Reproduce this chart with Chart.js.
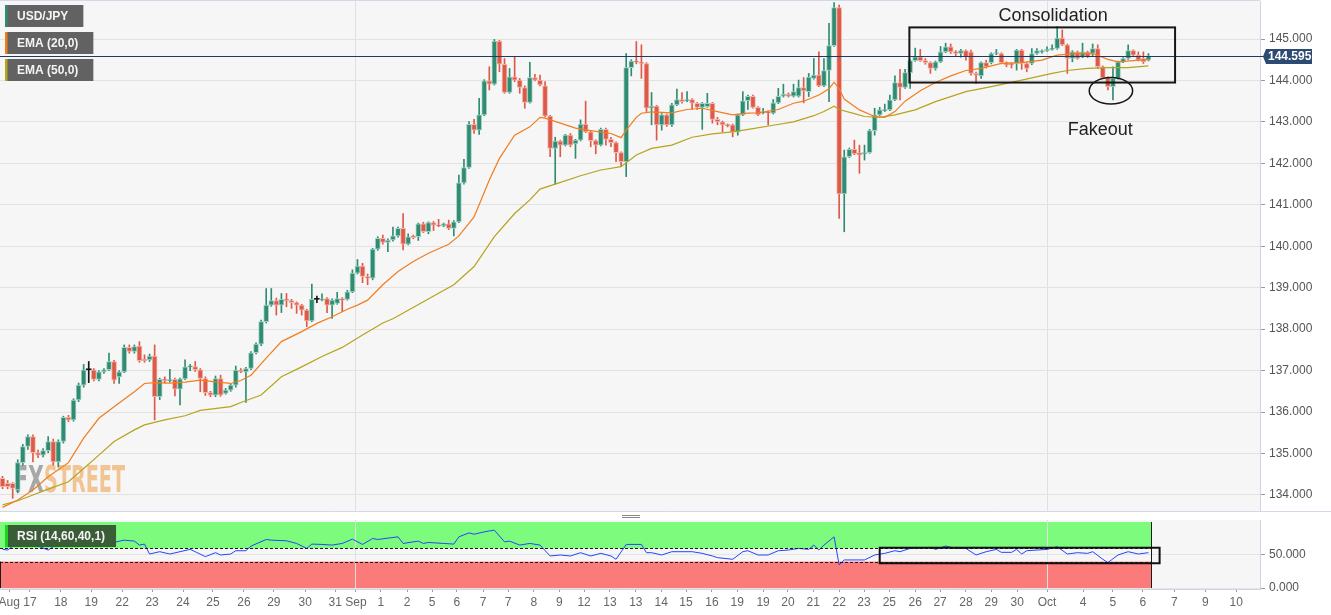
<!DOCTYPE html>
<html>
<head>
<meta charset="utf-8">
<script src="https://cdn.jsdelivr.net/npm/chart.js@4.4.1/dist/chart.umd.min.js"></script>
<style>
  html, body { margin:0; padding:0; background:#ffffff; }
  body { width:1331px; height:615px; overflow:hidden; position:relative; }
  .pane { position:absolute; left:0; width:1331px; }
  #p1 { top:0; height:512px; }
  #p2 { top:512px; height:103px; }
</style>
</head>
<body>
<div class="pane" id="p1"><canvas id="priceChart"></canvas></div>
<div class="pane" id="p2"><canvas id="rsiChart"></canvas></div>
<script>
// ---------------- DATA (USD/JPY, 4H candles) ----------------
const opens = [
134.40,134.28,134.28,134.12,134.78,135.17,135.41,135.02,134.96,135.07,
135.29,134.80,135.29,135.87,135.81,136.29,136.65,137.02,137.02,136.79,
136.97,137.02,137.22,136.85,136.97,137.56,137.46,137.59,137.27,137.26,
137.35,136.37,136.79,136.76,136.79,136.55,136.80,137.09,137.10,137.02,
136.81,136.47,136.41,136.81,136.45,136.53,136.65,137.01,136.97,137.05,
137.43,137.64,138.18,138.58,138.69,138.58,138.72,138.69,138.64,138.58,
138.46,138.20,138.72,138.70,138.74,138.58,138.62,138.74,138.72,138.90,
139.35,139.52,139.27,139.23,139.93,140.19,140.09,140.15,140.25,140.43,
140.05,140.25,140.23,140.54,140.35,140.57,140.51,140.49,140.54,140.43,
140.59,141.53,141.90,142.94,142.80,143.17,143.99,143.91,144.95,144.39,
143.71,144.09,144.01,143.83,143.47,144.07,144.01,143.87,143.14,142.36,
142.54,142.44,142.68,142.47,142.56,142.95,142.76,142.55,142.44,142.82,
142.58,142.50,142.26,142.04,144.31,144.47,144.44,144.41,143.33,143.38,
142.93,143.17,142.93,143.41,143.54,143.51,143.54,143.45,143.35,143.37,
143.45,143.06,143.00,142.93,142.93,142.76,143.17,143.51,143.62,143.35,
143.21,143.25,143.21,143.46,143.62,143.67,143.62,143.62,143.83,143.73,
144.05,144.13,143.87,144.24,144.84,145.76,141.26,142.16,142.34,142.26,
142.23,142.26,142.79,143.17,143.27,143.29,143.53,143.95,143.83,144.19,
144.48,144.57,144.48,144.43,144.29,144.45,144.69,144.81,144.69,144.65,
144.72,144.69,144.17,144.11,144.43,144.43,144.65,144.65,144.43,144.41,
144.41,144.73,144.41,144.41,144.65,144.69,144.72,144.75,144.77,145.02,
144.86,144.53,144.69,144.57,144.69,144.65,144.77,144.33,144.07,143.85,
144.05,144.45,144.53,144.72,144.61,144.53,144.49];
const highs = [
134.45,134.35,134.30,134.85,135.22,135.45,135.45,135.08,135.12,135.41,
135.35,135.33,135.90,135.92,136.32,136.70,137.15,137.22,137.05,137.00,
137.05,137.42,137.25,137.00,137.62,137.62,137.62,137.70,137.38,137.40,
137.62,136.82,136.85,137.03,136.82,136.82,137.26,137.15,137.22,137.05,
136.85,136.50,136.87,136.89,136.57,136.68,137.11,137.05,137.08,137.46,
137.67,138.22,138.98,138.98,138.75,138.86,138.86,138.72,138.66,138.60,
138.48,139.09,138.80,138.85,138.76,138.73,138.89,138.76,138.94,139.43,
139.68,139.59,139.33,139.95,140.23,140.27,140.18,140.46,140.46,140.79,
140.30,140.27,140.56,140.58,140.59,140.60,140.65,140.56,140.63,140.62,
141.72,142.10,143.01,143.06,143.57,144.02,144.33,144.99,144.97,144.53,
144.29,144.57,144.05,143.87,144.44,144.15,144.13,143.97,143.16,142.63,
142.56,142.70,142.72,142.58,143.05,143.50,142.78,142.57,142.85,142.85,
142.63,142.52,142.28,144.65,144.50,144.94,144.86,144.43,143.71,143.40,
143.20,143.19,143.45,143.79,143.71,143.73,143.56,143.47,143.47,143.69,
143.47,143.11,143.02,142.95,142.95,143.19,143.73,143.65,143.65,143.37,
143.33,143.27,143.54,143.81,143.91,143.70,143.91,144.01,144.07,144.17,
144.53,144.69,144.53,145.38,145.88,145.82,142.32,142.37,142.56,142.44,
142.44,142.82,143.33,143.35,143.43,143.65,144.11,144.27,144.27,144.50,
144.78,144.75,144.53,144.45,144.47,144.82,144.90,144.88,144.72,144.75,
144.74,144.73,144.20,144.45,144.49,144.67,144.75,144.67,144.45,144.43,
144.75,144.75,144.43,144.77,144.77,144.74,144.81,144.86,145.30,145.22,
144.88,144.72,144.71,144.90,144.71,144.88,144.86,144.35,144.09,144.33,
144.47,144.55,144.86,144.74,144.69,144.69,144.65];
const lows = [
134.15,134.15,133.92,134.05,134.72,135.10,134.80,134.90,134.92,135.02,
134.72,134.68,135.25,135.77,135.78,136.25,136.60,136.71,136.75,136.75,
136.93,137.00,136.69,136.69,136.95,137.42,137.42,137.20,137.20,137.22,
135.81,136.30,136.70,136.72,136.39,136.17,136.78,137.00,136.98,136.49,
136.40,136.37,136.37,136.38,136.43,136.50,136.60,136.95,136.23,137.02,
137.40,137.60,138.15,138.55,138.34,138.40,138.54,138.50,138.38,138.34,
138.06,138.18,138.64,138.68,138.40,138.26,138.60,138.42,138.70,138.88,
139.33,139.12,139.07,139.19,139.90,140.05,139.87,140.12,140.22,139.91,
140.03,140.18,140.14,140.33,140.30,140.38,140.47,140.47,140.40,140.25,
140.57,141.50,141.88,142.72,142.70,143.15,143.77,143.89,144.21,143.69,
143.69,143.97,143.69,143.33,143.45,143.99,143.87,143.12,142.16,141.50,
142.16,142.42,142.40,142.12,142.54,142.74,142.40,142.23,142.42,142.44,
142.40,142.04,141.92,141.68,144.11,144.40,144.05,143.25,142.93,142.56,
142.80,142.89,142.89,143.39,143.45,143.49,143.30,143.30,142.82,143.35,
142.97,142.93,142.76,142.88,142.64,142.68,143.15,143.30,143.33,143.15,
143.19,142.93,143.19,143.44,143.60,143.60,143.60,143.60,143.46,143.61,
144.03,143.85,143.85,143.49,144.82,140.67,140.35,142.14,142.21,141.76,
142.08,142.24,142.68,143.15,143.25,143.27,143.51,143.53,143.81,143.81,
144.46,144.46,144.39,144.17,144.25,144.43,144.67,144.65,144.60,144.56,
144.49,144.13,143.93,144.05,144.30,144.40,144.62,144.40,144.33,144.30,
144.25,144.27,144.21,144.38,144.63,144.66,144.70,144.73,144.75,144.84,
144.17,144.45,144.51,144.55,144.55,144.60,144.29,144.05,143.77,143.53,
144.03,144.43,144.51,144.59,144.47,144.41,144.47];
const closes = [
134.20,134.20,134.16,134.78,135.17,135.41,135.02,134.96,135.07,135.29,
134.80,135.29,135.87,135.81,136.29,136.65,137.02,137.02,136.79,136.97,
137.02,137.22,136.77,136.97,137.56,137.46,137.58,137.24,137.24,137.35,
136.37,136.79,136.76,136.78,136.55,136.80,137.09,137.10,137.02,136.81,
136.47,136.41,136.81,136.41,136.53,136.65,137.01,136.97,137.05,137.43,
137.64,138.18,138.58,138.69,138.58,138.72,138.69,138.64,138.58,138.46,
138.20,138.72,138.72,138.73,138.58,138.70,138.74,138.70,138.90,139.35,
139.52,139.27,139.23,139.93,140.19,140.09,140.15,140.25,140.43,140.05,
140.23,140.21,140.54,140.35,140.57,140.51,140.49,140.54,140.43,140.59,
141.53,141.90,142.94,142.80,143.17,143.99,143.91,144.95,144.39,143.71,
144.09,144.01,143.83,143.47,144.07,144.01,143.89,143.14,142.36,142.54,
142.44,142.68,142.44,142.56,142.95,142.76,142.55,142.44,142.82,142.58,
142.50,142.26,142.04,144.31,144.47,144.44,144.41,143.33,143.38,142.93,
143.17,142.93,143.41,143.54,143.49,143.54,143.45,143.35,143.45,143.45,
143.06,143.00,142.93,142.91,142.76,143.17,143.51,143.62,143.35,143.17,
143.25,143.21,143.46,143.62,143.67,143.62,143.73,143.83,143.75,144.08,
144.13,143.87,144.24,144.84,145.76,141.26,142.16,142.34,142.23,142.20,
142.26,142.79,143.17,143.29,143.30,143.53,143.95,143.83,144.19,144.48,
144.57,144.48,144.43,144.29,144.45,144.69,144.81,144.69,144.65,144.72,
144.57,144.17,144.13,144.43,144.33,144.65,144.67,144.43,144.37,144.38,
144.73,144.41,144.29,144.65,144.72,144.72,144.75,144.77,145.02,144.86,
144.53,144.69,144.53,144.69,144.57,144.77,144.33,144.07,143.85,144.05,
144.45,144.53,144.72,144.61,144.49,144.45,144.595];

// EMA readings [candle index, value]
const ema20Pts = [[0,133.70],[3,133.88],[6,134.12],[9,134.44],[13,134.78],[16,135.37],[19,135.85],[22,136.13],
[26,136.49],[28,136.69],[30,136.71],[33,136.70],[36,136.72],[39,136.77],[42,136.73],[45,136.69],[47,136.76],
[49,136.89],[52,137.30],[55,137.70],[59,137.94],[62,138.14],[65,138.30],[68,138.48],[70,138.58],[72,138.70],
[75,139.07],[78,139.39],[81,139.63],[84,139.83],[88,140.05],[90,140.25],[93,140.71],[94,141.00],[96,141.60],
[98,142.12],[101,142.68],[104,142.88],[106,143.11],[107,143.09],[110,142.97],[113,142.85],[116,142.79],
[120,142.72],[122,142.62],[123,142.80],[125,143.11],[126,143.21],[128,143.24],[132,143.22],[135,143.30],
[138,143.33],[141,143.25],[144,143.17],[147,143.21],[149,143.22],[153,143.30],[156,143.45],[158,143.50],
[161,143.65],[163,143.80],[164,143.96],[165,143.80],[166,143.55],[169,143.29],[172,143.13],[174,143.11],
[176,143.25],[178,143.50],[181,143.75],[184,143.95],[187,144.11],[190,144.24],[193,144.29],[197,144.41],
[201,144.43],[205,144.49],[208,144.61],[211,144.64],[215,144.65],[218,144.51],[220,144.45],[223,144.48],[226,144.51]];
const ema50Pts = [[0,133.76],[3,133.86],[6,134.00],[9,134.14],[13,134.32],[16,134.64],[19,134.96],[22,135.29],
[26,135.57],[28,135.69],[32,135.81],[36,135.91],[39,136.04],[45,136.13],[47,136.23],[51,136.41],[55,136.85],
[59,137.09],[63,137.34],[67,137.56],[71,137.86],[75,138.15],[77,138.25],[83,138.66],[89,139.07],[93,139.51],
[97,140.23],[101,140.79],[104,141.12],[106,141.38],[109,141.50],[114,141.70],[118,141.84],[122,141.92],
[125,142.20],[128,142.36],[132,142.44],[136,142.63],[140,142.71],[144,142.76],[148,142.84],[152,142.92],
[156,143.00],[160,143.15],[162,143.25],[164,143.38],[165,143.30],[168,143.20],[170,143.13],[173,143.11],
[176,143.17],[180,143.29],[184,143.49],[187,143.61],[190,143.73],[195,143.85],[201,144.01],[207,144.17],
[210,144.24],[214,144.29],[218,144.31],[222,144.31],[226,144.35]];

// RSI(14) readings [candle index, value]
const rsiPts = [[0,58.5],[1,57.5],[3,69],[5,67.5],[7,63.5],[9,57.5],[11,67.5],[13,69],[15,71],[17,73.5],[19,71.5],
[21,67.5],[24,72.5],[26,71],[27,65],[28,66.5],[29,51.5],[31,55],[33,51.5],[37,58.5],[38,55],[40,47.5],[42,53.5],
[43,50],[45,51.5],[46,56.5],[48,56.5],[49,63.5],[52,73.5],[53,72.5],[56,71.5],[58,67.5],[60,60],[61,66.5],[63,66],
[65,65],[67,67.5],[69,74],[71,66],[73,75],[74,73.5],[78,77.5],[79,67.5],[82,71],[83,67.5],[84,69],[87,67.5],
[89,66.5],[90,77.5],[92,83.5],[93,81.5],[95,85],[96,86.5],[97,87.5],[99,70],[100,71],[102,65],[104,67.5],[106,65],
[108,48.5],[110,50],[112,48.5],[114,53.5],[116,48.5],[118,52.5],[120,48.5],[121,43.5],[123,66],[126,66],[127,53.5],
[128,53.5],[130,50],[132,55],[136,55],[138,52.5],[140,48.5],[141,46],[144,43.5],[146,55],[147,56.5],[149,50],
[151,50],[153,56.5],[155,57.5],[157,60],[159,58.5],[160,65],[161,57.5],[162,65],[164,77.5],[165,35],[166,42.5],
[170,42.5],[172,50],[174,52.5],[176,56.5],[177,55],[179,60],[183,61.5],[184,58.5],[186,63.5],[188,60],[190,60],
[192,50],[194,55],[196,58.5],[197,54],[199,54],[200,58.5],[201,51.5],[202,56.5],[206,58.5],[208,62.5],[210,51.5],
[212,53.5],[214,52.5],[215,55],[217,43.5],[218,38.5],[220,50],[222,55],[224,51.5],[226,53.5]];

const lastPrice = 144.595;
const priceTicks = [134,135,136,137,138,139,140,141,142,143,144,145];
const rsiTicks = [0,50];
const rsiUpper = 60, rsiLower = 40;

// date labels and the candle slot they sit on
const tickText = ["Aug","17","18","19","22","23","24","25","26","29","30","31","Sep","1","2","5","6","7","7","8","9","12","13","13",
"14","15","16","19","19","20","21","22","23","25","26","27","28","29","30","Oct","4","5","6","7","9","10"];
const tickIdx = [1.3,5.4,11.5,17.5,23.6,29.5,35.6,41.5,47.6,53.5,59.7,65.6,69.7,74.6,79.8,84.7,89.6,94.8,99.7,104.8,109.8,114.7,119.8,124.9,
129.9,134.8,139.9,144.9,150.0,154.9,159.9,165.0,169.9,174.9,180.0,184.9,190.0,195.0,200.1,206.0,213.1,219.0,224.9,231.1,237.2,243.3];

// annotations (in data units)
const notes = {
  consolidation: { x0:178.85, x1:231.25, y0:143.95, y1:145.28, text:'Consolidation', tx:207.2, ty:145.56 },
  fakeout: { cx:218.6, cy:143.75, rx:4.28, ry:0.32, text:'Fakeout', tx:216.5, ty:142.80 },
  rsiBox: { x0:173.0, x1:228.2, y0:37.5, y1:61 }
};

// ---------------- STYLE ----------------
const FONT = '"Liberation Sans", Arial, sans-serif';
const UP = '#2f8c73', DN = '#dd5a48', UPL = '#a3d2c4', DNL = '#f2b5ab', DOJI = '#161616';
const EMA20C = '#f27d1f', EMA50C = '#b5a41d';
const n = closes.length;
const idx = closes.map((_, i) => i);
const colorOf = i => closes[i] > opens[i] ? UP : (closes[i] < opens[i] ? DN : DOJI);
const paleOf = i => closes[i] > opens[i] ? UPL : (closes[i] < opens[i] ? DNL : DOJI);
const isMonth = t => t === 'Sep' || t === 'Oct';

function xScale(showLabels) {
  return {
    type: 'linear', min: -0.5, max: 248, offset: false, bounds: 'data',
    afterBuildTicks: s => { s.ticks = tickIdx.map(v => ({ value: v })); },
    afterFit: s => { s.height = showLabels ? 26 : 0; s.paddingLeft = 0; s.paddingRight = 0; },
    ticks: { display: showLabels, autoSkip: false, maxRotation: 0, minRotation: 0, padding: 3,
      color: '#666', font: { family: FONT, size: 12 }, callback: (v, i) => tickText[i] },
    grid: { display: true, offset: false, drawTicks: showLabels, tickLength: 3, tickColor: '#9a9a9a', lineWidth: 1,
      color: c => (c.index !== undefined && isMonth(tickText[c.index])) ? '#e0e0e0' : 'rgba(0,0,0,0)' },
    border: { display: showLabels, color: '#cfd5e6' }
  };
}
function yScale(min, max, list, gridColor) {
  return {
    type: 'linear', position: 'right', min: min, max: max, bounds: 'data',
    afterBuildTicks: s => { s.ticks = list.map(v => ({ value: v })); },
    afterFit: s => { s.width = 71; s.paddingTop = 0; s.paddingBottom = 0; },
    ticks: { color: '#555', font: { family: FONT, size: 12 }, padding: 4, callback: v => Number(v).toFixed(3) },
    grid: { color: gridColor, tickColor: '#9a9a9a', tickLength: 5, drawTicks: true },
    border: { display: true, color: '#cfd5e6' }
  };
}

const priceDecor = {
  id: 'priceDecor',
  beforeDraw(chart) {
    const { ctx, chartArea: a } = chart;
    ctx.save();
    ctx.fillStyle = '#f6f6f6';
    ctx.fillRect(a.left, a.top, a.right - a.left, a.bottom - a.top);
    ctx.textBaseline = 'alphabetic';
    ctx.textAlign = 'left';
    ctx.font = 'bold 38px "DejaVu Sans Condensed", "Liberation Sans Narrow", sans-serif';
    ctx.fillStyle = 'rgba(118,118,118,0.62)';
    ctx.fillText('FX', a.left + 14, 492, 30);
    ctx.fillStyle = 'rgba(240,165,85,0.62)';
    ctx.fillText('STREET', a.left + 44, 492, 81);
    ctx.restore();
  },
  afterDatasetsDraw(chart) {
    const { ctx, chartArea: a, scales: { x, y } } = chart;
    ctx.save();
    // last price line + tag
    const py = Math.round(y.getPixelForValue(lastPrice)) + 0.5;
    ctx.strokeStyle = '#1e3a66'; ctx.lineWidth = 1;
    ctx.beginPath(); ctx.moveTo(a.left, py); ctx.lineTo(a.right + 4, py); ctx.stroke();
    ctx.fillStyle = '#2c4a72';
    ctx.beginPath();
    ctx.moveTo(a.right + 3, py);
    ctx.lineTo(a.right + 6, py - 7.5);
    ctx.lineTo(a.right + 52, py - 7.5);
    ctx.lineTo(a.right + 52, py + 7.5);
    ctx.lineTo(a.right + 6, py + 7.5);
    ctx.closePath(); ctx.fill();
    ctx.fillStyle = '#ffffff'; ctx.font = 'bold 12px ' + FONT;
    ctx.textBaseline = 'middle'; ctx.textAlign = 'left';
    ctx.fillText(lastPrice.toFixed(3), a.right + 8, py + 0.5);
    // consolidation box
    const c = notes.consolidation;
    const bx0 = x.getPixelForValue(c.x0), bx1 = x.getPixelForValue(c.x1);
    const by0 = y.getPixelForValue(c.y1), by1 = y.getPixelForValue(c.y0);
    ctx.strokeStyle = '#161616'; ctx.lineWidth = 2;
    ctx.strokeRect(bx0, by0, bx1 - bx0, by1 - by0);
    ctx.fillStyle = '#222'; ctx.font = '18px ' + FONT; ctx.textAlign = 'center';
    ctx.fillText(c.text, x.getPixelForValue(c.tx), y.getPixelForValue(c.ty));
    // fakeout ellipse
    const f = notes.fakeout;
    const ecx = x.getPixelForValue(f.cx), ecy = y.getPixelForValue(f.cy);
    const erx = x.getPixelForValue(f.cx + f.rx) - ecx, ery = y.getPixelForValue(f.cy - f.ry) - ecy;
    ctx.lineWidth = 1.5; ctx.beginPath(); ctx.ellipse(ecx, ecy, erx, ery, 0, 0, Math.PI * 2); ctx.stroke();
    ctx.fillText(f.text, x.getPixelForValue(f.tx), y.getPixelForValue(f.ty));
    // legend tags
    const items = [['USD/JPY', UP], ['EMA (20,0)', EMA20C], ['EMA (50,0)', EMA50C]];
    ctx.font = 'bold 12px ' + FONT; ctx.textAlign = 'left';
    items.forEach((it, k) => {
      const ty = 5 + k * 27, w = ctx.measureText(it[0]).width;
      ctx.fillStyle = '#626262'; ctx.fillRect(5, ty, w + 27, 22);
      ctx.fillStyle = it[1]; ctx.fillRect(5, ty, 2.5, 22);
      ctx.fillStyle = '#f4f4f4'; ctx.fillText(it[0], 17, ty + 11.5);
    });
    ctx.restore();
  },
  afterDraw(chart) {
    const { ctx, chartArea: a, width } = chart;
    ctx.save();
    ctx.strokeStyle = '#d3d8e8'; ctx.lineWidth = 1;
    ctx.beginPath(); ctx.moveTo(a.left, a.top - 0.5); ctx.lineTo(a.right, a.top - 0.5); ctx.stroke();
    ctx.beginPath(); ctx.moveTo(0, a.bottom + 0.5); ctx.lineTo(width, a.bottom + 0.5); ctx.stroke();
    ctx.restore();
  }
};

const rsiDecor = {
  id: 'rsiDecor',
  beforeDraw(chart) {
    const { ctx, chartArea: a, scales: { x, y } } = chart;
    ctx.save();
    ctx.fillStyle = '#f6f6f6';
    ctx.fillRect(a.left, a.top, a.right - a.left, a.bottom - a.top);
    const xr = x.getPixelForValue(n - 0.5);
    ctx.fillStyle = '#7dfb7d';
    ctx.fillRect(a.left, y.getPixelForValue(100), xr - a.left, y.getPixelForValue(rsiUpper) - y.getPixelForValue(100));
    ctx.fillStyle = '#fb7b7b';
    ctx.fillRect(a.left, y.getPixelForValue(rsiLower), xr - a.left, y.getPixelForValue(0) - y.getPixelForValue(rsiLower));
    // pane handle
    ctx.strokeStyle = '#8a8a8a'; ctx.lineWidth = 1;
    [3.5, 5.5].forEach(h => { ctx.beginPath(); ctx.moveTo(622, h); ctx.lineTo(640, h); ctx.stroke(); });
    ctx.restore();
  },
  afterDatasetsDraw(chart) {
    const { ctx, chartArea: a, scales: { x, y } } = chart;
    ctx.save();
    const xr = Math.round(x.getPixelForValue(n - 0.5)) + 0.5;
    ctx.strokeStyle = '#1a1a1a'; ctx.lineWidth = 1;
    ctx.setLineDash([3, 2]);
    [rsiUpper, rsiLower].forEach(v => {
      const yy = Math.round(y.getPixelForValue(v)) + 0.5;
      ctx.beginPath(); ctx.moveTo(a.left, yy); ctx.lineTo(xr, yy); ctx.stroke();
    });
    ctx.setLineDash([]);
    ctx.beginPath(); ctx.moveTo(xr, y.getPixelForValue(100)); ctx.lineTo(xr, y.getPixelForValue(0)); ctx.stroke();
    ctx.beginPath(); ctx.moveTo(a.left + 0.5, y.getPixelForValue(rsiLower)); ctx.lineTo(a.left + 0.5, y.getPixelForValue(0)); ctx.stroke();
    // annotation box
    const b = notes.rsiBox;
    const bx0 = x.getPixelForValue(b.x0), bx1 = x.getPixelForValue(b.x1);
    const by0 = y.getPixelForValue(b.y1), by1 = y.getPixelForValue(b.y0);
    ctx.strokeStyle = '#111'; ctx.lineWidth = 2;
    ctx.strokeRect(bx0, by0, bx1 - bx0, by1 - by0);
    // label tag
    ctx.font = 'bold 12px ' + FONT;
    const label = 'RSI (14,' + rsiUpper + ',' + rsiLower + ',1)';
    const w = ctx.measureText(label).width;
    ctx.fillStyle = '#3a5d37'; ctx.fillRect(5, 13, w + 23, 22);
    ctx.fillStyle = '#1fd21f'; ctx.fillRect(5, 13, 3, 22);
    ctx.fillStyle = '#f4f4f4'; ctx.textBaseline = 'middle'; ctx.textAlign = 'left';
    ctx.fillText(label, 17, 24.5);
    ctx.restore();
  }
};

const common = {
  responsive: true, maintainAspectRatio: false, animation: false, devicePixelRatio: 1, events: [],
  plugins: { legend: { display: false }, tooltip: { enabled: false } }
};

new Chart(document.getElementById('priceChart'), {
  type: 'bar',
  data: {
    datasets: [
      { type: 'line', data: ema20Pts.map(p => ({ x: p[0], y: p[1] })), borderColor: EMA20C, borderWidth: 1.2,
        pointRadius: 0, tension: 0, order: 0 },
      { type: 'line', data: ema50Pts.map(p => ({ x: p[0], y: p[1] })), borderColor: EMA50C, borderWidth: 1.2,
        pointRadius: 0, tension: 0, order: 1 },
      { data: idx.map(i => ({ x: i, y: [Math.min(opens[i], closes[i]), Math.max(opens[i], closes[i])] })),
        backgroundColor: idx.map(colorOf), borderColor: idx.map(paleOf),
        borderWidth: idx.map(i => opens[i] === closes[i] ? 0 : 1), borderSkipped: false,
        barThickness: 5, minBarLength: 1, grouped: false, order: 2 },
      { data: idx.map(i => ({ x: i, y: [lows[i], highs[i]] })), backgroundColor: idx.map(colorOf),
        barThickness: 1, grouped: false, order: 3 }
    ]
  },
  options: Object.assign({}, common, {
    layout: { padding: { top: 1, bottom: 1, left: 0, right: 0 } },
    scales: { x: xScale(false), y: yScale(133.613, 145.917, priceTicks, '#e2e2e2') }
  }),
  plugins: [priceDecor]
});

new Chart(document.getElementById('rsiChart'), {
  type: 'line',
  data: { datasets: [{ data: rsiPts.map(p => ({ x: p[0], y: p[1] })), borderColor: '#2445ff', borderWidth: 1,
    pointRadius: 0, tension: 0 }] },
  options: Object.assign({}, common, {
    layout: { padding: { top: 8, bottom: 0, left: 0, right: 0 } },
    scales: { x: xScale(true), y: yScale(-1.5, 103, rsiTicks, '#e4e4e4') }
  }),
  plugins: [rsiDecor]
});
</script>
</body>
</html>
